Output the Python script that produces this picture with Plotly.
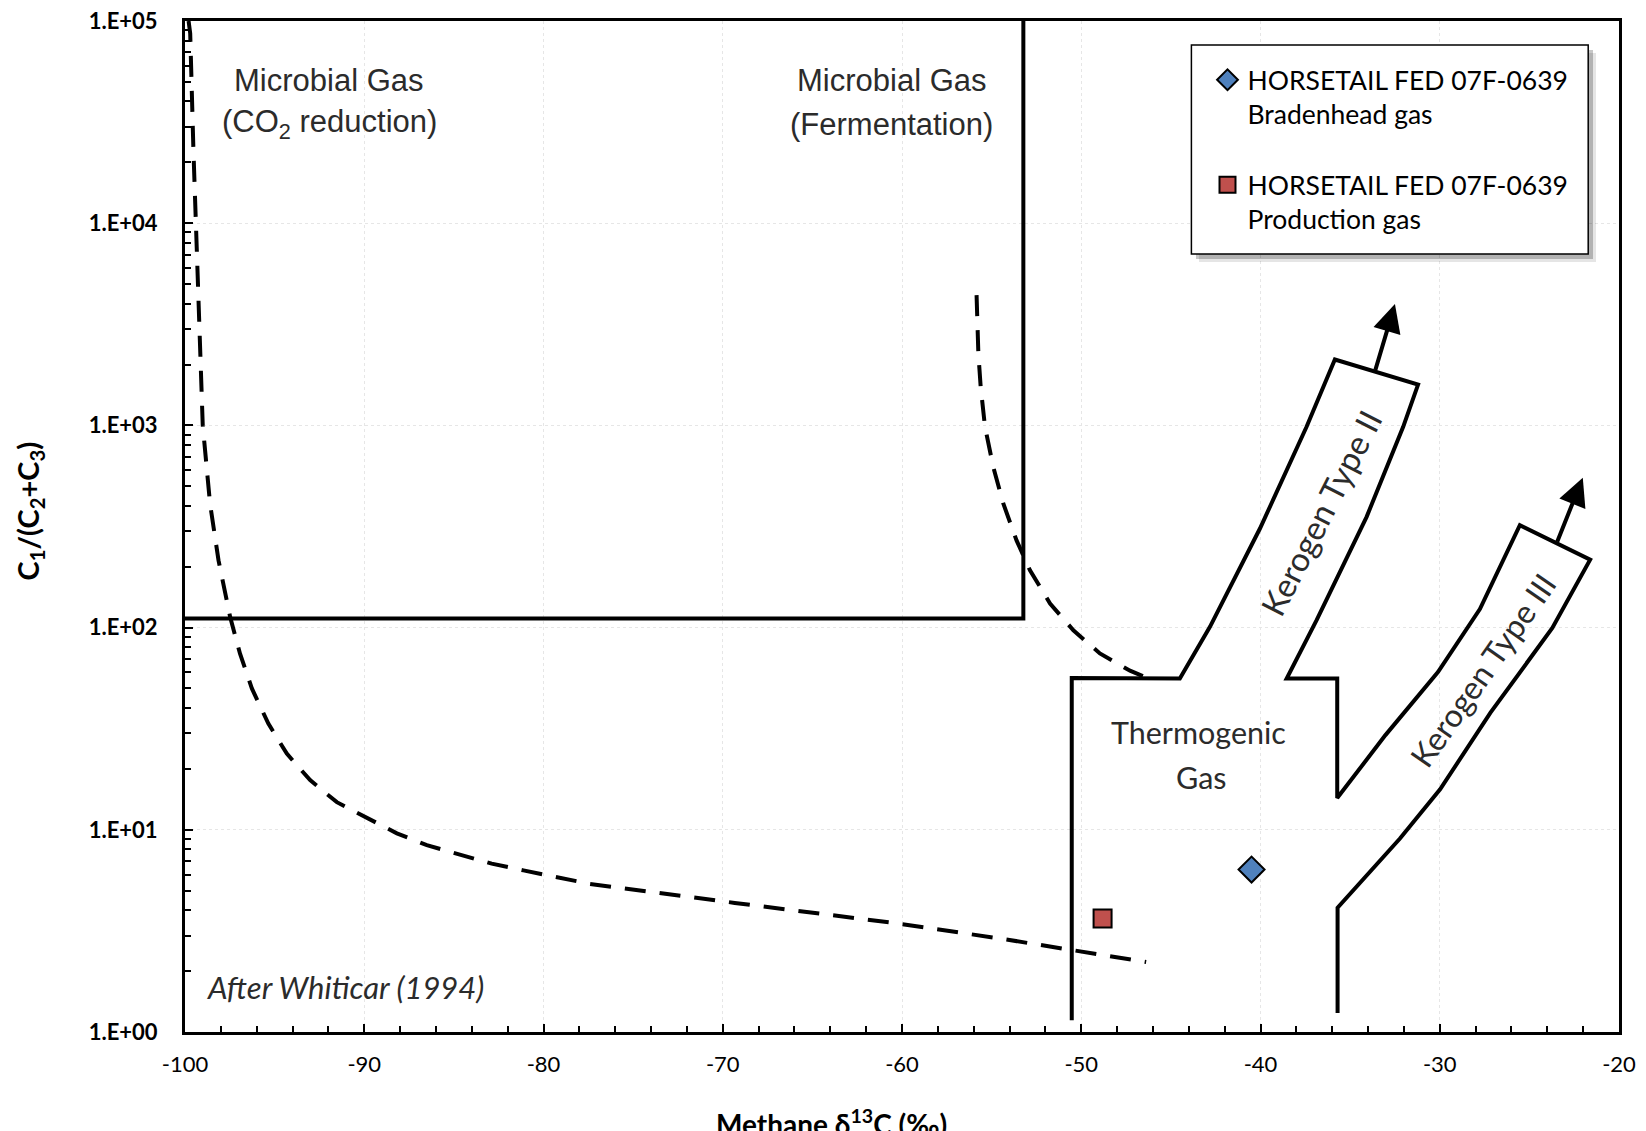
import math
import plotly.graph_objects as go

# ---------------- data ----------------
# Whiticar (1994) style field boundaries (delta13C permil, C1/(C2+C3))
microbial_box_x = [-100.0, -53.23, -53.23]
microbial_box_y = [110.9, 110.9, 100000]

left_dash_x = [-99.80, -99.71, -99.53, -99.30, -99.01, -98.60, -98.13, -97.48, -96.93,
               -96.27, -95.35, -94.32, -93.02, -91.53, -89.86, -88.18, -86.51, -84.65,
               -82.89, -81.12, -79.26, -77.40, -69.33, -60.54, -54.53, -46.38]
left_dash_y = [100000, 86900, 22960, 5035, 1000, 408, 215, 112.7, 74.3,
               50.0, 33.5, 23.8, 17.6, 13.7, 11.4, 9.6, 8.4, 7.5,
               6.8, 6.3, 5.85, 5.4, 4.35, 3.47, 2.90, 2.22]

right_dash_x = [-55.84, -55.74, -55.61, -55.37, -54.91, -54.35, -53.61, -52.86, -51.74,
                -50.44, -48.96, -47.28, -45.98]
right_dash_y = [4406, 2270, 1549, 984, 624, 411, 270, 192, 131.5,
                97.0, 74.5, 61.2, 54.8]

thermo_x = [-50.53, -50.53, -44.50, -42.82, -40.03, -37.43, -35.85, -31.21, -32.04,
            -34.08, -36.87, -38.54, -35.72, -35.72, -33.03, -30.10, -27.76, -25.53,
            -21.61, -23.72, -27.17, -29.98, -32.22, -35.70, -35.70]
thermo_y = [1.143, 56.4, 56.0, 100.9, 309, 984, 2118, 1592, 984,
            353, 108.9, 56.0, 56.0, 14.35, 29.4, 60.3, 123.6, 321,
            216.8, 99.5, 38.0, 15.85, 9.06, 4.12, 1.243]

# arrows (tail -> tip) for kerogen maturity trends
arrow_names = ["Kerogen Type II", "Kerogen Type III"]
arrow_tail_x = [-33.62, -23.48]
arrow_tail_y = [1845, 261.6]
arrow_tip_x = [-32.50, -22.02]
arrow_tip_y = [3981, 551]

# samples
sample_names = ["HORSETAIL FED 07F-0639<br>Bradenhead gas",
                "HORSETAIL FED 07F-0639<br>Production gas"]
sample_x = [-40.50, -48.81]
sample_y = [6.36, 3.64]
sample_symbols = ["diamond", "square"]
sample_colors = ["#4F81BD", "#C0504D"]
sample_sizes = [20, 18]

x_ticks = [-100, -90, -80, -70, -60, -50, -40, -30, -20]
x_ticktext = ["-100", "-90", "-80", "-70", "-60", "-50", "-40", "-30", "-20"]
y_ticks = [1, 10, 100, 1000, 10000, 100000]
y_ticktext = ["1.E+00", "1.E+01", "1.E+02", "1.E+03", "1.E+04", "1.E+05"]
y_minor = [m * 10 ** d for d in range(5) for m in range(2, 10)]

# ---------------- figure ----------------
fig = go.Figure()
LW = 4
DASH = "21px,14px"
fig.add_trace(go.Scatter(x=microbial_box_x, y=microbial_box_y, mode="lines",
                         line=dict(color="black", width=LW), showlegend=False, hoverinfo="skip"))
fig.add_trace(go.Scatter(x=left_dash_x, y=left_dash_y, mode="lines",
                         line=dict(color="black", width=LW, dash=DASH),
                         showlegend=False, hoverinfo="skip"))
fig.add_trace(go.Scatter(x=right_dash_x, y=right_dash_y, mode="lines",
                         line=dict(color="black", width=LW, dash=DASH),
                         showlegend=False, hoverinfo="skip"))
fig.add_trace(go.Scatter(x=thermo_x, y=thermo_y, mode="lines",
                         line=dict(color="black", width=LW), showlegend=False, hoverinfo="skip"))

for i in range(len(sample_names)):
    fig.add_trace(go.Scatter(
        x=[sample_x[i]], y=[sample_y[i]], mode="markers", name=sample_names[i],
        legendgroup=str(i),
        marker=dict(symbol=sample_symbols[i], color=sample_colors[i], size=sample_sizes[i],
                    line=dict(color="black", width=2))))

for i in range(len(arrow_names)):
    fig.add_annotation(x=arrow_tip_x[i], y=math.log10(arrow_tip_y[i]),
                       ax=arrow_tail_x[i], ay=math.log10(arrow_tail_y[i]),
                       xref="x", yref="y", axref="x", ayref="y", text="",
                       showarrow=True, arrowhead=2, arrowsize=1.4, arrowwidth=4,
                       arrowcolor="black", standoff=0, startstandoff=0)

TXT = "#2b2b2b"
arial = "Liberation Sans, Arial, sans-serif"
cal = "Lato, Carlito, Calibri, sans-serif"


def label(x, ly, text, size=30, family=arial, angle=0, xanchor="center", italic=False):
    fig.add_annotation(x=x, y=ly, xref="x", yref="y", text=text, showarrow=False,
                       textangle=angle, xanchor=xanchor, yanchor="middle",
                       font=dict(family=family, size=size, color=TXT,
                                 style="italic" if italic else "normal"))


label(-91.96, 4.707, "Microbial Gas", size=31)
label(-91.96, 4.489, "(CO<sub>2</sub> reduction)", size=31)
label(-60.56, 4.707, "Microbial Gas", size=31)
label(-60.56, 4.489, "(Fermentation)", size=31)
label(-43.44, 1.482, "Thermogenic", size=30.5, family=cal)
label(-43.30, 1.259, "Gas", size=30.5, family=cal)
label(-36.66, 2.569, "Kerogen Type II", size=33, family=cal, angle=-63)
label(-27.64, 1.79, "Kerogen Type III", size=32, family=cal, angle=-55)
label(-98.89, 0.2226, "After Whiticar (1994)", size=31, family=cal, xanchor="left", italic=True)

# window px -> paper coordinates helpers (plot area: x 185..1619, y 21..1032)
PL, PW, PB, PH = 185.0, 1434.0, 1032.0, 1011.0


def px(xw):
    return (xw - PL) / PW


def py(yw):
    return (PB - yw) / PH


# x-axis title (centered on the figure, partly cut at the bottom like the original)
fig.add_annotation(x=0.4505, y=-0.0693, xref="paper", yref="paper", xanchor="center", yanchor="top",
                   text="<b>Methane δ<sup>13</sup>C (‰)</b>", showarrow=False,
                   font=dict(family=cal, size=28, color="black"))

# y-axis title
fig.add_annotation(x=px(29.4), y=py(511), xref="paper", yref="paper", xanchor="center", yanchor="middle",
                   textangle=-90, text="<b>C<sub>1</sub>/(C<sub>2</sub>+C<sub>3</sub>)</b>",
                   showarrow=False, font=dict(family=cal, size=29, color="black"))

# legend frame with drop shadow
fig.add_shape(type="rect", xref="paper", yref="paper",
              x0=px(1199), x1=px(1596), y0=py(262), y1=py(53),
              fillcolor="rgba(0,0,0,0.10)", line=dict(width=0), layer="above")
fig.add_shape(type="rect", xref="paper", yref="paper",
              x0=px(1196), x1=px(1593), y0=py(259), y1=py(50),
              fillcolor="rgba(0,0,0,0.22)", line=dict(width=0), layer="above")
fig.add_shape(type="rect", xref="paper", yref="paper",
              x0=px(1191.4), x1=px(1588.2), y0=py(254), y1=py(45.1),
              fillcolor="white", line=dict(color="black", width=1.5), layer="above")

axis_common = dict(showline=True, linecolor="black", linewidth=3, mirror=True,
                   ticks="inside", tickcolor="black", tickwidth=2, ticklen=8,
                   showgrid=True, gridcolor="#e6e6e6", gridwidth=1, griddash="dot",
                   zeroline=False, automargin=False, ticklabeloverflow="allow")

fig.update_layout(
    width=1638, height=1123,
    margin=dict(l=177, r=27, t=13, b=99),
    plot_bgcolor="white", paper_bgcolor="white",
    font=dict(family=cal, color="black"),
    xaxis=dict(range=[-100, -20], tickvals=x_ticks, ticktext=x_ticktext,
               tickfont=dict(family=cal, size=22, color="black"),
               minor=dict(dtick=2, ticks="inside", ticklen=6, tickcolor="black", tickwidth=2, showgrid=False),
               ticklabelstandoff=11, **axis_common),
    yaxis=dict(type="log", range=[0, 5], tickvals=y_ticks, ticktext=y_ticktext,
               tickfont=dict(family=cal, size=22, color="black", weight="bold"),
               minor=dict(tickvals=y_minor, ticks="inside", ticklen=6, tickcolor="black", tickwidth=2, showgrid=False),
               ticklabelstandoff=20, **axis_common),
    legend=dict(x=px(1195.5), y=py(56), xanchor="left", yanchor="top",
                bgcolor="rgba(0,0,0,0)", borderwidth=0,
                font=dict(family=cal, size=26.5, color="black"),
                valign="top", tracegroupgap=33, indentation=12, itemwidth=30),
    showlegend=True,
)

fig.write_html("out.html")
